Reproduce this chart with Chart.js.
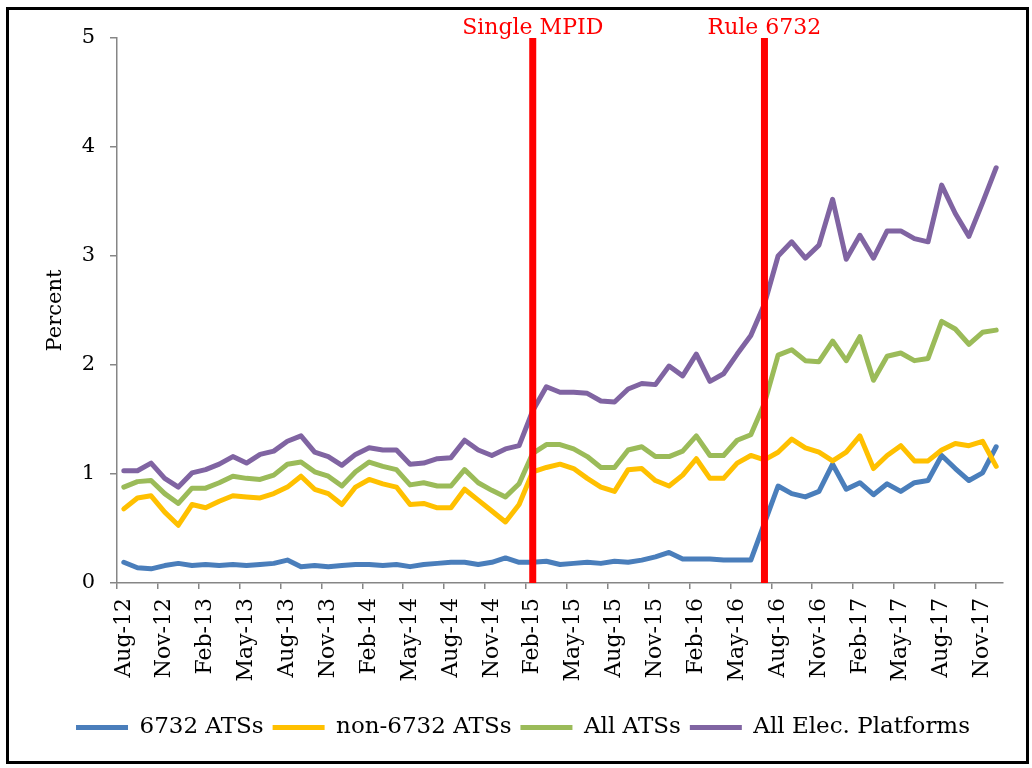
<!DOCTYPE html>
<html>
<head>
<meta charset="utf-8">
<script src="https://cdn.jsdelivr.net/npm/chart.js@4.4.1/dist/chart.umd.min.js"></script>
<style>
  html, body { margin: 0; padding: 0; background: #fff; }
  #wrap { position: relative; width: 1032px; height: 768px; }
  #frame {
    position: absolute; left: 6px; top: 7px; width: 1023px; height: 757px;
    box-sizing: border-box; border: 3px solid #000; pointer-events: none;
  }
  canvas { display: block; }
</style>
</head>
<body>
<div id="wrap">
  <canvas id="chart" width="1032" height="768"></canvas>
  <div id="frame"></div>
</div>
<script>
const FONT = '"DejaVu Serif", "Liberation Serif", serif';
const AXIS_GREY = "#868686";

const months = [
  "Aug-12", "Sep-12", "Oct-12", "Nov-12", "Dec-12",
  "Jan-13", "Feb-13", "Mar-13", "Apr-13", "May-13", "Jun-13", "Jul-13", "Aug-13", "Sep-13", "Oct-13", "Nov-13", "Dec-13",
  "Jan-14", "Feb-14", "Mar-14", "Apr-14", "May-14", "Jun-14", "Jul-14", "Aug-14", "Sep-14", "Oct-14", "Nov-14", "Dec-14",
  "Jan-15", "Feb-15", "Mar-15", "Apr-15", "May-15", "Jun-15", "Jul-15", "Aug-15", "Sep-15", "Oct-15", "Nov-15", "Dec-15",
  "Jan-16", "Feb-16", "Mar-16", "Apr-16", "May-16", "Jun-16", "Jul-16", "Aug-16", "Sep-16", "Oct-16", "Nov-16", "Dec-16",
  "Jan-17", "Feb-17", "Mar-17", "Apr-17", "May-17", "Jun-17", "Jul-17", "Aug-17", "Sep-17", "Oct-17", "Nov-17", "Dec-17",
];

const ats6732 = [
  0.19, 0.14, 0.13, 0.16, 0.18, 0.16, 0.17, 0.16, 0.17, 0.16, 0.17, 0.18, 0.21, 0.15, 0.16, 0.15, 0.16,
  0.17, 0.17, 0.16, 0.17, 0.15, 0.17, 0.18, 0.19, 0.19, 0.17, 0.19, 0.23, 0.19, 0.19, 0.20,
  0.17, 0.18, 0.19, 0.18, 0.20, 0.19, 0.21, 0.24, 0.28, 0.22, 0.22, 0.22, 0.21, 0.21, 0.21,
  0.55, 0.89, 0.82, 0.79, 0.84, 1.09, 0.86, 0.92, 0.81, 0.91, 0.84, 0.92, 0.94, 1.17, 1.05, 0.94, 1.01, 1.25,
];

const atsNon6732 = [
  0.68, 0.78, 0.80, 0.65, 0.53, 0.72, 0.69, 0.75, 0.80, 0.79, 0.78, 0.82, 0.88, 0.98, 0.86, 0.82, 0.72,
  0.88, 0.95, 0.91, 0.88, 0.72, 0.73, 0.69, 0.69, 0.86, 0.76, 0.66, 0.56, 0.72, 1.02, 1.06,
  1.09, 1.05, 0.96, 0.88, 0.84, 1.04, 1.05, 0.94, 0.89, 0.99, 1.14, 0.96, 0.96, 1.10, 1.17,
  1.13, 1.20, 1.32, 1.24, 1.20, 1.12, 1.20, 1.35, 1.05, 1.17, 1.26, 1.12, 1.12, 1.22, 1.28, 1.26, 1.30, 1.07,
];

const allAts = [
  0.88, 0.93, 0.94, 0.82, 0.73, 0.87, 0.87, 0.92, 0.98, 0.96, 0.95, 0.99, 1.09, 1.11, 1.02, 0.98, 0.89,
  1.02, 1.11, 1.07, 1.04, 0.90, 0.92, 0.89, 0.89, 1.04, 0.92, 0.85, 0.79, 0.91, 1.19, 1.27,
  1.27, 1.23, 1.16, 1.06, 1.06, 1.22, 1.25, 1.16, 1.16, 1.21, 1.35, 1.17, 1.17, 1.31, 1.36,
  1.65, 2.09, 2.14, 2.04, 2.03, 2.22, 2.04, 2.26, 1.86, 2.08, 2.11, 2.04, 2.06, 2.40, 2.33, 2.19, 2.30, 2.32,
];

const allElecPlatforms = [
  1.03, 1.03, 1.10, 0.96, 0.88, 1.01, 1.04, 1.09, 1.16, 1.10, 1.18, 1.21, 1.30, 1.35, 1.20, 1.16, 1.08,
  1.18, 1.24, 1.22, 1.22, 1.09, 1.10, 1.14, 1.15, 1.31, 1.22, 1.17, 1.23, 1.26, 1.58, 1.80,
  1.75, 1.75, 1.74, 1.67, 1.66, 1.78, 1.83, 1.82, 1.99, 1.90, 2.10, 1.85, 1.92, 2.10, 2.27,
  2.56, 3.00, 3.13, 2.98, 3.10, 3.52, 2.97, 3.19, 2.98, 3.23, 3.23, 3.16, 3.13, 3.65, 3.39, 3.18, 3.49, 3.81,
];

const eventMonths = ["Feb-15", "Jul-16"];
const eventLabels = ["Single MPID", "Rule 6732"];

function lineSeries(label, data, color, order) {
  return {
    label,
    data,
    borderColor: color,
    backgroundColor: color,
    borderWidth: 5,
    borderCapStyle: "round",
    borderJoinStyle: "round",
    pointRadius: 0,
    tension: 0,
    fill: false,
    order,
  };
}

// red vertical markers drawn on top of the series
const eventLinesPlugin = {
  id: "eventLines",
  afterDatasetsDraw(chart) {
    const { ctx, scales: { x, y } } = chart;
    const top = y.getPixelForValue(5);
    const bottom = y.getPixelForValue(0);
    ctx.save();
    eventMonths.forEach((month, i) => {
      const px = x.getPixelForValue(months.indexOf(month));
      ctx.strokeStyle = "#ff0000";
      ctx.lineWidth = 7;
      ctx.lineCap = "butt";
      ctx.beginPath();
      ctx.moveTo(px, top);
      ctx.lineTo(px, bottom);
      ctx.stroke();
      ctx.fillStyle = "#ff0000";
      ctx.font = `22px ${FONT}`;
      ctx.textAlign = "center";
      ctx.textBaseline = "alphabetic";
      ctx.fillText(eventLabels[i], px, top - 4);
    });
    ctx.restore();
  },
};

new Chart(document.getElementById("chart"), {
  type: "line",
  data: {
    labels: months,
    datasets: [
      lineSeries("6732 ATSs", ats6732, "#4a7ebb", 4),
      lineSeries("non-6732 ATSs", atsNon6732, "#ffc000", 3),
      lineSeries("All ATSs", allAts, "#9bbb59", 2),
      lineSeries("All Elec. Platforms", allElecPlatforms, "#8064a2", 1),
    ],
  },
  options: {
    responsive: false,
    devicePixelRatio: 1,
    animation: false,
    layout: { padding: { left: 43, right: 29, top: 38, bottom: 19 } },
    plugins: {
      tooltip: { enabled: false },
      legend: {
        position: "bottom",
        labels: {
          font: { family: FONT, size: 23 },
          color: "#000",
          usePointStyle: true,
          pointStyle: "line",
          pointStyleWidth: 52,
          padding: 9,
          sort: (a, b) => a.datasetIndex - b.datasetIndex,
        },
      },
    },
    scales: {
      x: {
        offset: true,
        border: { color: AXIS_GREY, width: 1.5 },
        grid: {
          offset: true,
          drawOnChartArea: false,
          drawTicks: true,
          tickLength: 6,
          lineWidth: 1.5,
          color: (ctx) => (ctx.index % 3 === 0 ? AXIS_GREY : "rgba(0,0,0,0)"),
        },
        ticks: {
          autoSkip: false,
          minRotation: 90,
          maxRotation: 90,
          padding: 9,
          color: "#000",
          font: { family: FONT, size: 22 },
          callback: (value, index) => (index % 3 === 0 ? months[index] : ""),
        },
        afterFit: (scale) => {
          scale.height = 124;
        },
      },
      y: {
        min: 0,
        max: 5,
        border: { color: AXIS_GREY, width: 1.5 },
        grid: {
          drawOnChartArea: false,
          drawTicks: true,
          tickLength: 7,
          lineWidth: 1.5,
          color: AXIS_GREY,
        },
        ticks: {
          stepSize: 1,
          padding: 15,
          color: "#000",
          font: { family: FONT, size: 21 },
        },
        title: {
          display: true,
          text: "Percent",
          color: "#000",
          font: { family: FONT, size: 21 },
          padding: { top: 0, bottom: 0 },
        },
        afterFit: (scale) => {
          scale.width = 74;
        },
      },
    },
  },
  plugins: [eventLinesPlugin],
});
</script>
</body>
</html>
